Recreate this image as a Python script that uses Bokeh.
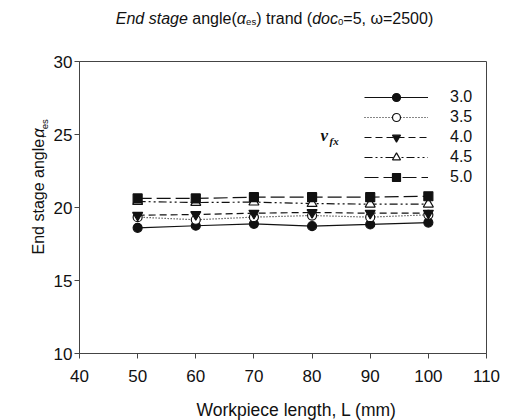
import math
from bokeh.plotting import figure
from bokeh.layouts import column, row
from bokeh.models import Label, Legend, LegendItem, FixedTicker, Range1d
from bokeh.embed import file_html
from bokeh.resources import INLINE

# workpiece length (mm)
length_mm = [50, 60, 70, 80, 90, 100]
# end stage angle for each feed level v_fx
feed_levels = ["3.0", "3.5", "4.0", "4.5", "5.0"]
angle_v30 = [18.61, 18.75, 18.88, 18.72, 18.84, 18.97]
angle_v35 = [19.34, 19.16, 19.34, 19.45, 19.34, 19.50]
angle_v40 = [19.47, 19.52, 19.61, 19.66, 19.61, 19.61]
angle_v45 = [20.41, 20.34, 20.37, 20.27, 20.23, 20.23]
angle_v50 = [20.62, 20.62, 20.71, 20.71, 20.71, 20.77]
x_ticks = [40, 50, 60, 70, 80, 90, 100, 110]
y_ticks = [10, 15, 20, 25, 30]

W, H = 515, 420
TITLE_H = 36          # strip holding the title
XLAB_H = 30           # strip holding the x axis title
YLAB_W = 50           # strip holding the y axis title
FRAME_L, FRAME_R, FRAME_T, FRAME_B = 76, 486, 61, 353
SANS = "Liberation Sans"
SERIF = "Liberation Serif"
INK = "#111111"

# advance widths (em) of Liberation Sans, used to butt mixed-style runs together
ADV = {" ": .278, "(": .333, ")": .333, "=": .584, ",": .278, ".": .278,
       "E": .667, "L": .556, "W": .944, "a": .556, "c": .5, "d": .556, "e": .556,
       "g": .556, "l": .222, "n": .556, "o": .556, "r": .333, "s": .5, "t": .278,
       "\u03b1": .58, "\u03c9": .78}
MID = 0.35  # height of the em-box middle above the baseline, in em


def run_width(text, size):
    return sum(ADV.get(ch, .556) for ch in text) * size


def text_strip(width, height, x0, y0):
    """Blank figure whose data units are page pixels (y given negated, from the top)."""
    f = figure(width=width, height=height, output_backend="svg", toolbar_location=None,
               x_range=Range1d(x0, x0 + width), y_range=Range1d(-(y0 + height), -y0),
               x_axis_location=None, y_axis_location=None, min_border=0)
    f.title.visible = False
    f.grid.visible = False
    f.outline_line_color = None
    f.border_fill_color = "white"
    f.background_fill_color = "white"
    return f


def put(fig, text, x, y, size, style="normal", font=SANS, angle=0.0,
        align="left", baseline="alphabetic"):
    fig.add_layout(Label(x=x, y=-y, text=text, text_font=font, text_font_size=f"{size}px",
                         text_font_style=style, text_color=INK, angle=angle,
                         text_align=align, text_baseline=baseline))


# ---- main plot -------------------------------------------------------------
p = figure(width=W - YLAB_W, height=H - TITLE_H - XLAB_H,
           output_backend="svg", toolbar_location=None,
           x_range=Range1d(40, 110), y_range=Range1d(10, 30),
           min_border_left=FRAME_L - YLAB_W, min_border_right=W - FRAME_R,
           min_border_top=FRAME_T - TITLE_H, min_border_bottom=H - XLAB_H - FRAME_B)
p.title.visible = False
p.grid.visible = False
p.outline_line_color = "#444444"
p.outline_line_width = 1
p.background_fill_color = "white"
p.border_fill_color = "white"

for ax, ticks in ((p.xaxis[0], x_ticks), (p.yaxis[0], y_ticks)):
    ax.ticker = FixedTicker(ticks=ticks)
    ax.minor_tick_line_color = None
    ax.major_tick_in = 0
    ax.major_tick_out = 5
    ax.axis_line_color = "#444444"
    ax.major_tick_line_color = "#444444"
    ax.major_label_text_font = SANS
    ax.major_label_text_font_size = "17px"
    ax.major_label_text_color = INK
p.xaxis.major_label_standoff = 11
p.yaxis.major_label_standoff = 2

series = [
    (angle_v30, "solid", "circle", INK, 9),
    (angle_v35, "1 2", "circle", "white", 9),
    (angle_v40, "7 4", "inverted_triangle", INK, 10),
    (angle_v45, "8 3 2 3 2 3", "triangle", "white", 10),
    (angle_v50, "14 5", "square", INK, 9),
]

items = []
for label, (vals, dash, marker, fill, size) in zip(feed_levels, series):
    ln = p.line(length_mm, vals, line_color=INK, line_width=1.2, line_dash=dash)
    sc = p.scatter(length_mm, vals, marker=marker, size=size,
                   line_color=INK, line_width=1.2, fill_color=fill)
    items.append(LegendItem(label=label, renderers=[ln, sc]))

legend = Legend(items=items, location=(285, 166), glyph_width=64, glyph_height=20,
                label_standoff=22, spacing=0, padding=0, margin=0,
                border_line_alpha=0, background_fill_alpha=0,
                label_text_font=SANS, label_text_font_size="16px",
                label_text_color=INK, label_height=20)
p.add_layout(legend)


def put_frame(text, x, y, size, style="normal", font=SANS):
    """Text inside the plot frame, placed by page pixel."""
    p.add_layout(Label(x=x - FRAME_L, y=FRAME_B - y, x_units="screen", y_units="screen",
                       text=text, text_font=font, text_font_size=f"{size}px",
                       text_font_style=style, text_color=INK,
                       text_align="left", text_baseline="alphabetic"))


# legend heading v_fx
put_frame("v", 317, 135, 17, "bold italic", font=SERIF)
put_frame("fx", 326, 140, 11, "bold italic", font=SERIF)

SUB = 0.6  # subscript scale


def lay_runs(runs, size, stretch=1.0):
    """Yield (text, style, font size, start offset, width, is_subscript) for butted
    runs. Leading and trailing spaces become offsets, since SVG text drops them."""
    pos = 0.0
    for s, style, sub in runs:
        fs = size * (SUB if sub else 1)
        body = s.strip(" ")
        lead = run_width(s[:len(s) - len(s.lstrip(" "))], fs) * stretch
        yield body, style, round(fs, 1), pos + lead, run_width(body, fs) * stretch, sub
        pos += run_width(s, fs) * stretch


def runs_width(runs, size):
    return sum(run_width(s, size * (SUB if sub else 1)) for s, _, sub in runs)


# ---- title -----------------------------------------------------------------
TITLE_SIZE = 16
title_runs = [("End stage", "italic", False), (" angle(", "normal", False),
              ("\u03b1", "italic", False), ("es", "normal", True),
              (") trand (", "normal", False), ("doc", "italic", False),
              ("0", "normal", True), ("=5, \u03c9=2500)", "normal", False)]

t = text_strip(W, TITLE_H, 0, 0)
x0 = 274 - runs_width(title_runs, TITLE_SIZE) / 2
for body, style, fs, off, w, sub in lay_runs(title_runs, TITLE_SIZE):
    put(t, body, x0 + off, 18 + (3 if sub else 0), fs, style)

# ---- y axis title (reads bottom to top); each run is placed by its centre --
YT_SIZE = 16
YT_BASE_X = 44      # baseline of the rotated text
YT_START_Y = 262    # where the text begins
YT_STRETCH = 1.08   # rotated runs come out slightly wider than the table says
ylab_runs = [("End stage angle, ", "normal", False), ("\u03b1", "italic", False),
             ("es", "normal", True)]
yl = text_strip(YLAB_W, H - TITLE_H - XLAB_H, 0, TITLE_H)
for body, style, fs, off, w, sub in lay_runs(ylab_runs, YT_SIZE, YT_STRETCH):
    cx = YT_BASE_X + (3 if sub else 0) - MID * fs
    cy = YT_START_Y - off - w / 2
    put(yl, body, cx, cy, fs, style, angle=math.pi / 2, align="center", baseline="middle")

# ---- x axis title ----------------------------------------------------------
xl = text_strip(W, XLAB_H, 0, H - XLAB_H)
put(xl, "Workpiece length, L (mm)", 296, 409, 17.5, align="center")

layout = column(t, row(yl, p, spacing=0), xl, spacing=0)
open("out.html", "w").write(file_html(layout, INLINE))
